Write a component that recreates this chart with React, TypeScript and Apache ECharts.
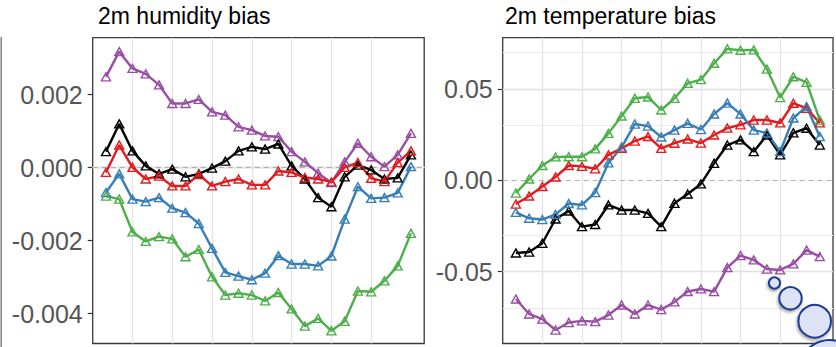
import React, { useEffect, useRef } from "react";
import * as echarts from "echarts";

// lead time steps (x positions, shared by both panels)
const timeSteps = [1, 2, 3, 4, 5, 6, 7, 8, 9, 10, 11, 12, 13, 14, 15, 16, 17, 18, 19, 20, 21, 22, 23, 24];

// 2m humidity bias
const humPurple = [0.00249, 0.00318, 0.00272, 0.00257, 0.00227, 0.00176, 0.00176, 0.00187, 0.00153, 0.00144, 0.00112, 0.00103, 0.00087, 0.00085, 0.00044, 0.00016, -0.00015, -0.00041, 0.00016, 0.00067, 0.0003, 0.00003, 0.00035, 0.00094];
const humBlack = [0.00044, 0.0012, 0.00046, 0.00005, -0.00017, -0.00004, -0.00025, -0.00017, -0.00001, 0.00018, 0.00046, 0.00057, 0.00051, 0.00065, 0.00005, -0.00031, -0.00082, -0.00107, -0.00025, 0.00007, -0.00006, -0.00031, -0.00028, 0.00035];
const humRed = [-0.00013, 0.00062, 0.00001, -0.00031, -0.00023, -0.0005, -0.0005, -0.00019, -0.0005, -0.00038, -0.00031, -0.00047, -0.00047, -0.00009, -0.00013, -0.00027, -0.00031, -0.00039, 0.00001, 0.00014, -0.00029, -0.00038, 0.00014, 0.00046];
const humBlue = [-0.00068, -0.00017, -0.00086, -0.00093, -0.00082, -0.00111, -0.00123, -0.00153, -0.00221, -0.00287, -0.00297, -0.00307, -0.00289, -0.00241, -0.00264, -0.00264, -0.00269, -0.00242, -0.00141, -0.00052, -0.00084, -0.00082, -0.00069, 0.00003];
const humGreen = [-0.00078, -0.00086, -0.00176, -0.00202, -0.00189, -0.00195, -0.00244, -0.00224, -0.00299, -0.00349, -0.00344, -0.00349, -0.00365, -0.00342, -0.00387, -0.00434, -0.00413, -0.00447, -0.00421, -0.00338, -0.0034, -0.0031, -0.00269, -0.0018];

// 2m temperature bias
const tempGreen = [-0.007, 0.0007, 0.0081, 0.0128, 0.0129, 0.0129, 0.0172, 0.0257, 0.0352, 0.0449, 0.0456, 0.0385, 0.0449, 0.0531, 0.0551, 0.0641, 0.072, 0.0712, 0.0714, 0.0609, 0.0453, 0.0567, 0.0536, 0.033];
const tempRed = [-0.013, -0.0086, -0.0034, 0.0018, 0.0081, 0.0076, 0.0063, 0.0139, 0.0175, 0.0215, 0.024, 0.0175, 0.0203, 0.0226, 0.0204, 0.0248, 0.0286, 0.0304, 0.033, 0.033, 0.0314, 0.0422, 0.0394, 0.0314];
const tempBlue = [-0.0176, -0.0208, -0.0215, -0.0187, -0.0127, -0.0135, -0.0067, 0.0095, 0.0182, 0.0308, 0.0297, 0.0237, 0.0275, 0.0312, 0.0278, 0.0363, 0.0423, 0.0363, 0.0275, 0.0259, 0.0157, 0.0341, 0.0404, 0.0239];
const tempBlack = [-0.0398, -0.0393, -0.0345, -0.0212, -0.0168, -0.0254, -0.0242, -0.0135, -0.0163, -0.0163, -0.0181, -0.0254, -0.0126, -0.0075, -0.002, 0.0093, 0.0193, 0.0221, 0.0157, 0.0248, 0.0139, 0.026, 0.0285, 0.0193];
const tempPurple = [-0.065, -0.0732, -0.076, -0.082, -0.0779, -0.077, -0.0774, -0.0738, -0.0683, -0.0732, -0.0683, -0.0708, -0.0666, -0.0609, -0.0595, -0.061, -0.0478, -0.0412, -0.0436, -0.0486, -0.0491, -0.0458, -0.0382, -0.0418];

// ticks / grid lines
const humTicks = [-0.004, -0.002, 0, 0.002];
const humMinor = [-0.003, -0.001, 0.001, 0.003];
const tempTicks = [-0.05, 0, 0.05];
const tempMinor = [-0.075, -0.025, 0.025, 0.075];
const stepLines = [3, 6, 9, 12, 15, 18, 21];

const titles = ["2m humidity bias", "2m temperature bias"];

const COLORS = {
  purple: "#984ea3",
  black: "#000000",
  red: "#e41a1c",
  blue: "#377eb8",
  green: "#4daf4a",
};

const FONT = "Liberation Sans, Arial, Helvetica, sans-serif";

function lineSeries(name: string, values: number[], color: string, gi: number) {
  return {
    name,
    type: "line",
    xAxisIndex: gi,
    yAxisIndex: gi,
    data: timeSteps.map((s, i) => [s, values[i]]),
    symbol: "triangle",
    symbolSize: [9, 8],
    showSymbol: true,
    silent: true,
    z: 3,
    lineStyle: { color, width: 2.4 },
    itemStyle: { color: "rgba(255,255,255,0)", borderColor: color, borderWidth: 1.4 },
    emphasis: { disabled: true },
  };
}

function gridSeries(gi: number, major: number[], minor: number[]) {
  const data: any[] = [];
  major.forEach((v) => {
    if (v !== 0) data.push({ yAxis: v, lineStyle: { color: "#e0e0e0", width: 1.4, type: "solid" } });
  });
  minor.forEach((v) => data.push({ yAxis: v, lineStyle: { color: "#ebebeb", width: 1, type: "solid" } }));
  stepLines.forEach((v) => data.push({ xAxis: v, lineStyle: { color: "#e4e4e4", width: 1.3, type: "solid" } }));
  data.push({ yAxis: 0, lineStyle: { color: "#b0b0b0", width: 1.1, type: [5, 4] } });
  return {
    type: "line",
    xAxisIndex: gi,
    yAxisIndex: gi,
    data: [],
    silent: true,
    z: 1,
    markLine: {
      silent: true,
      z: 1,
      symbol: ["none", "none"],
      label: { show: false },
      emphasis: { disabled: true },
      animation: false,
      data,
    },
  };
}

function yAxisDef(gi: number, min: number, max: number, ticks: number[], digits: number) {
  return {
    type: "value",
    gridIndex: gi,
    min,
    max,
    axisLine: { show: false },
    axisTick: { show: true, customValues: ticks, length: 5, lineStyle: { color: "#333", width: 1.2 } },
    axisLabel: {
      customValues: ticks,
      formatter: (v: number) => v.toFixed(digits),
      fontSize: 25,
      color: "#555555",
      fontFamily: FONT,
      margin: 10,
    },
    splitLine: { show: false },
    minorTick: { show: false },
  };
}

function xAxisDef(gi: number) {
  return {
    type: "value",
    gridIndex: gi,
    min: 0,
    max: 25,
    axisLine: { show: false },
    axisTick: { show: false },
    axisLabel: { show: false },
    splitLine: { show: false },
  };
}

const bubbleStyle = {
  fill: "#dde3f6",
  stroke: "#1f3c8f",
  lineWidth: 2,
  shadowBlur: 3,
  shadowColor: "rgba(0,0,0,0.35)",
  shadowOffsetX: -1,
  shadowOffsetY: 2,
};

export default function App() {
  const ref = useRef<HTMLDivElement>(null);

  useEffect(() => {
    if (!ref.current) return;
    const chart = echarts.init(ref.current, undefined, { renderer: "svg" });
    const option: any = {
      animation: false,
      backgroundColor: "#ffffff",
      textStyle: { fontFamily: FONT },
      grid: [
        { left: 92.7, top: 37.7, width: 331.5, height: 305.8, show: true, borderColor: "#3a3a3a", borderWidth: 1.3, backgroundColor: "#fff" },
        { left: 502.7, top: 37.7, width: 330.3, height: 305.8, show: true, borderColor: "#3a3a3a", borderWidth: 1.3, backgroundColor: "#fff" },
      ],
      xAxis: [xAxisDef(0), xAxisDef(1)],
      yAxis: [
        yAxisDef(0, -0.004817, 0.003562, humTicks, 3),
        yAxisDef(1, -0.08937, 0.07809, tempTicks, 2),
      ],
      series: [
        gridSeries(0, humTicks, humMinor),
        gridSeries(1, tempTicks, tempMinor),
        lineSeries("purple", humPurple, COLORS.purple, 0),
        lineSeries("black", humBlack, COLORS.black, 0),
        lineSeries("red", humRed, COLORS.red, 0),
        lineSeries("blue", humBlue, COLORS.blue, 0),
        lineSeries("green", humGreen, COLORS.green, 0),
        lineSeries("purple", tempPurple, COLORS.purple, 1),
        lineSeries("black", tempBlack, COLORS.black, 1),
        lineSeries("red", tempRed, COLORS.red, 1),
        lineSeries("blue", tempBlue, COLORS.blue, 1),
        lineSeries("green", tempGreen, COLORS.green, 1),
      ],
      graphic: [
        {
          type: "text",
          x: 98,
          y: 16,
          style: { text: titles[0], fontSize: 23, fontFamily: FONT, fill: "#000", verticalAlign: "middle", align: "left" },
          z: 10,
        },
        {
          type: "text",
          x: 505,
          y: 16,
          style: { text: titles[1], fontSize: 23, fontFamily: FONT, fill: "#000", verticalAlign: "middle", align: "left" },
          z: 10,
        },
        {
          type: "line",
          shape: { x1: 1.2, y1: 37, x2: 1.2, y2: 347 },
          style: { stroke: "#8a8a8a", lineWidth: 1.6 },
          z: 10,
        },
        { type: "circle", shape: { cx: 774.5, cy: 283, r: 5.6 }, style: bubbleStyle, z: 20 },
        { type: "circle", shape: { cx: 790.5, cy: 298.3, r: 11.2 }, style: bubbleStyle, z: 20 },
        { type: "circle", shape: { cx: 814.7, cy: 321.2, r: 16.3 }, style: bubbleStyle, z: 20 },
        { type: "circle", shape: { cx: 830, cy: 372, r: 32 }, style: bubbleStyle, z: 20 },
      ],
    };
    chart.setOption(option);
    return () => chart.dispose();
  }, []);

  return (
    <div
      ref={ref}
      style={{ position: "fixed", left: 0, top: 0, width: 836, height: 347, background: "#fff" }}
    />
  );
}
